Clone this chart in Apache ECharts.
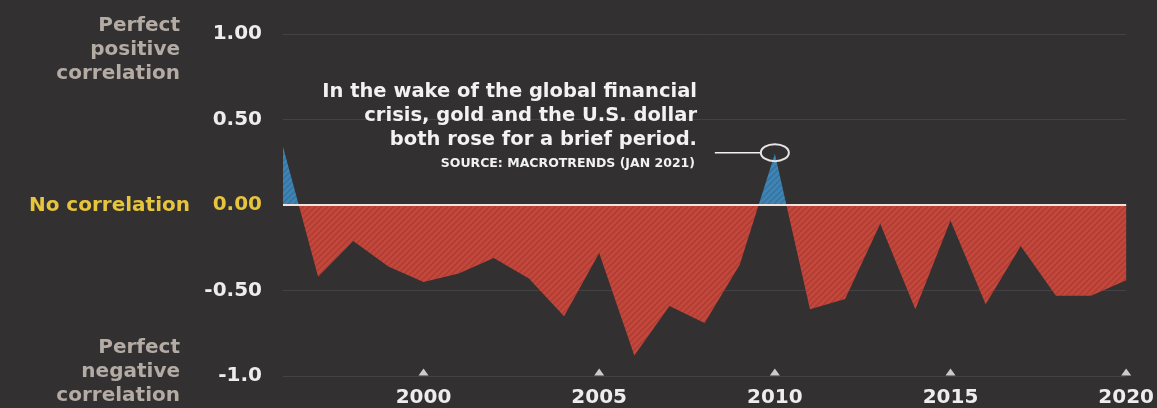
<!DOCTYPE html>
<html>
<head>
<meta charset="utf-8">
<script src="https://cdn.jsdelivr.net/npm/echarts@6/dist/echarts.min.js"></script>
<style>
  html, body { margin: 0; padding: 0; background: #323031; }
  #chart { width: 1157px; height: 408px; }
</style>
</head>
<body>
<div id="chart"></div>
<script>
// Yearly correlation between gold and the U.S. dollar
const years = ['1996','1997','1998','1999','2000','2001','2002','2003','2004','2005','2006','2007','2008',
               '2009','2010','2011','2012','2013','2014','2015','2016','2017','2018','2019','2020'];
const correlation = [0.34, -0.42, -0.21, -0.36, -0.45, -0.40, -0.31, -0.43, -0.65, -0.28, -0.88, -0.59, -0.69,
                     -0.35, 0.30, -0.61, -0.55, -0.11, -0.61, -0.09, -0.58, -0.24, -0.53, -0.53, -0.44];
const tickYears = ['2000', '2005', '2010', '2015', '2020'];
const yTickLabels = { '1': '1.00', '0.5': '0.50', '0': '0.00', '-0.5': '-0.50', '-1': '-1.0' };
const highlightYear = '2010';

const BG = '#323031';
const RED = '#c4473c';
const BLUE = '#3a86b8';
const YELLOW = '#e6c43c';
const GREY = '#b3aba4';
const WHITE = '#ededed';
const FONT = '"DejaVu Sans", sans-serif';

// faint diagonal hatch overlay for the filled area
function hatchPattern() {
  const c = document.createElement('canvas');
  c.width = 6; c.height = 6;
  const g = c.getContext('2d');
  g.strokeStyle = 'rgba(80,22,20,0.2)';
  g.lineWidth = 1.5;
  g.beginPath();
  g.moveTo(0, 6); g.lineTo(6, 0);
  g.moveTo(-3, 3); g.lineTo(3, -3);
  g.moveTo(3, 9); g.lineTo(9, 3);
  g.stroke();
  return c;
}

const chart = echarts.init(document.getElementById('chart'), null, { renderer: 'canvas' });

const option = {
  backgroundColor: BG,
  animation: false,
  grid: { left: 283, right: 29, top: 34, bottom: 30 },
  xAxis: {
    type: 'category',
    data: years,
    boundaryGap: false,
    axisLine: { show: false },
    axisTick: { show: false },
    splitLine: { show: false },
    axisLabel: {
      interval: (i, v) => tickYears.includes(v),
      color: WHITE,
      fontFamily: FONT,
      fontWeight: 'bold',
      fontSize: 20,
      margin: 12
    }
  },
  yAxis: {
    type: 'value',
    min: -1, max: 1, interval: 0.5,
    axisLine: { show: false },
    axisTick: { show: false },
    splitLine: { lineStyle: { color: '#444243', width: 1 } },
    axisLabel: {
      formatter: v => yTickLabels[String(v)] || '',
      color: (v) => (Number(v) === 0 ? YELLOW : WHITE),
      fontFamily: FONT,
      fontWeight: 'bold',
      fontSize: 20,
      margin: 21
    }
  },
  series: [
    {
      type: 'line',
      data: correlation,
      symbol: 'none',
      lineStyle: { width: 0 },
      areaStyle: { opacity: 1, origin: 0, color: RED },
      z: 2,
      markLine: {
        silent: true,
        symbol: 'none',
        label: { show: false },
        lineStyle: { color: '#f3e2de', width: 2, type: 'solid' },
        data: [{ yAxis: 0 }]
      }
    },
    {
      type: 'line',
      data: correlation,
      symbol: 'none',
      lineStyle: { width: 0 },
      areaStyle: { opacity: 1, origin: 0, color: { image: hatchPattern(), repeat: 'repeat' } },
      z: 3
    },
    {
      // triangular tick markers on the bottom baseline
      type: 'scatter',
      data: tickYears.map(y => [y, -1]),
      symbol: 'triangle',
      symbolSize: [10, 7],
      symbolOffset: [0, -4],
      itemStyle: { color: '#f2f2f2' },
      z: 4
    }
  ]
};

chart.setOption(option);

// split the fill colour at zero: blue above, red below
const yTop = chart.convertToPixel({ yAxisIndex: 0 }, 1);
const yBottom = chart.convertToPixel({ yAxisIndex: 0 }, -1);
const yZero = chart.convertToPixel({ yAxisIndex: 0 }, 0);
const f = (yZero - yTop) / (yBottom - yTop);
const splitFill = new echarts.graphic.LinearGradient(0, yTop, 0, yBottom, [
  { offset: 0, color: BLUE },
  { offset: f, color: BLUE },
  { offset: f, color: RED },
  { offset: 1, color: RED }
], true);

// annotation pointing at the 2010 peak
const idx = years.indexOf(highlightYear);
const [px, py] = chart.convertToPixel({ gridIndex: 0 }, [idx, correlation[idx]]);

const sideStyle = { fill: GREY, fontFamily: FONT, fontWeight: 'bold', fontSize: 20, lineHeight: 24, align: 'right', verticalAlign: 'middle' };

chart.setOption({
  series: [{ areaStyle: { color: splitFill } }],
  graphic: [
    { type: 'text', x: 180, y: 50, style: Object.assign({ text: 'Perfect\npositive\ncorrelation' }, sideStyle) },
    { type: 'text', x: 180, y: 372, style: Object.assign({ text: 'Perfect\nnegative\ncorrelation' }, sideStyle) },
    { type: 'text', x: 190, y: 206, style: { text: 'No correlation', fill: YELLOW, fontFamily: FONT, fontWeight: 'bold', fontSize: 20, align: 'right', verticalAlign: 'middle' } },
    {
      type: 'text', x: 697, y: 116,
      style: {
        text: 'In the wake of the global financial\ncrisis, gold and the U.S. dollar\nboth rose for a brief period.',
        fill: '#f2f2f2', fontFamily: FONT, fontWeight: 'bold', fontSize: 19.5, lineHeight: 24, align: 'right', verticalAlign: 'middle'
      }
    },
    {
      type: 'text', x: 695, y: 164,
      style: { text: 'SOURCE: MACROTRENDS (JAN 2021)', fill: '#f2f2f2', fontFamily: FONT, fontWeight: 'bold', fontSize: 12.5, align: 'right', verticalAlign: 'middle' }
    },
    {
      type: 'line', z: 10,
      shape: { x1: px - 60, y1: py - 1, x2: px - 14, y2: py - 1 },
      style: { stroke: '#f2f2f2', lineWidth: 1.5 }
    },
    {
      type: 'ellipse', z: 10,
      shape: { cx: px, cy: py - 1, rx: 14, ry: 8.5 },
      style: { fill: 'none', stroke: '#e8e4e4', lineWidth: 2 }
    }
  ]
});
</script>
</body>
</html>
